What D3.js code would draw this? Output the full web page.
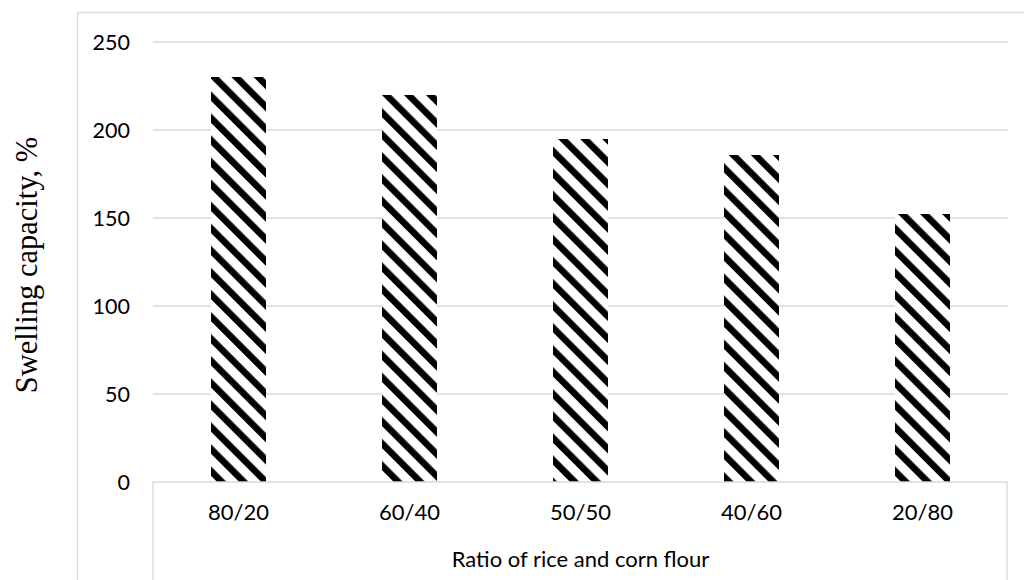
<!DOCTYPE html>
<html>
<head>
<meta charset="utf-8">
<script src="https://cdn.jsdelivr.net/npm/d3@7"></script>
<style>
  html, body { margin: 0; padding: 0; background: #fff; }
  svg { display: block; }
</style>
</head>
<body>
<svg id="chart" width="1024" height="580"></svg>
<script>
const categories = ["80/20", "60/40", "50/50", "40/60", "20/80"];
const swellingValues = [230, 220, 195, 186, 152];
const yTicks = [0, 50, 100, 150, 200, 250];
const xTitle = "Ratio of rice and corn flour";
const yTitle = "Swelling capacity, %";

const svg = d3.select("#chart");
const W = 1024, H = 580;
const plot = { left: 153, right: 1008, top: 42, bottom: 482 };
const grid = "#d9d9d9";

// outer chart border
svg.append("path")
  .attr("d", `M77.5,${H} V12.5 H${W}`)
  .attr("fill", "none").attr("stroke", grid).attr("stroke-width", 1.3);

// pattern: wide downward diagonal
const defs = svg.append("defs");
const pat = defs.append("pattern")
  .attr("id", "diag")
  .attr("patternUnits", "userSpaceOnUse")
  .attr("width", 15.6).attr("height", 15.6)
  .attr("patternTransform", "rotate(-45)");
pat.append("rect").attr("width", 15.6).attr("height", 15.6).attr("fill", "#fff");
pat.append("rect").attr("x", 0).attr("y", 0).attr("width", 6.6).attr("height", 15.6).attr("fill", "#000");

const x = d3.scaleBand().domain(categories).range([plot.left, plot.right]).paddingInner(0).paddingOuter(0);
const y = d3.scaleLinear().domain([0, 250]).range([plot.bottom, plot.top]);

// gridlines
svg.append("g").selectAll("line").data(yTicks.filter(d => d > 0)).join("line")
  .attr("x1", plot.left).attr("x2", plot.right)
  .attr("y1", d => y(d)).attr("y2", d => y(d))
  .attr("stroke", grid).attr("stroke-width", 1.3);

// y tick labels
svg.append("g").selectAll("text").data(yTicks).join("text")
  .attr("x", 130).attr("y", d => y(d))
  .attr("dy", "0.35em")
  .attr("text-anchor", "end")
  .attr("font-family", "Lato, 'Open Sans', sans-serif")
  .attr("font-size", 21.5)
  .attr("fill", "#000")
  .text(d => d);

// bars
const barFrac = 0.316;
svg.append("g").selectAll("rect").data(categories).join("rect")
  .attr("x", d => x(d) + x.bandwidth() * (1 - barFrac) / 2)
  .attr("width", x.bandwidth() * barFrac)
  .attr("y", (d, i) => y(swellingValues[i]))
  .attr("height", (d, i) => y(0) - y(swellingValues[i]))
  .attr("fill", "url(#diag)")
  .attr("shape-rendering", "crispEdges");

// axis line + table box below
svg.append("path")
  .attr("d", `M${plot.left},${H} V${plot.bottom} H${plot.right - 1} V${H}`)
  .attr("fill", "none").attr("stroke", grid).attr("stroke-width", 1.3);

// category labels
svg.append("g").selectAll("text").data(categories).join("text")
  .attr("x", d => x(d) + x.bandwidth() / 2)
  .attr("y", 520)
  .attr("text-anchor", "middle")
  .attr("font-family", "Lato, 'Open Sans', sans-serif")
  .attr("font-size", 22)
  .attr("fill", "#000")
  .text(d => d);

// x title
svg.append("text")
  .attr("x", (plot.left + plot.right) / 2)
  .attr("y", 567)
  .attr("text-anchor", "middle")
  .attr("font-family", "Lato, 'Open Sans', sans-serif")
  .attr("font-size", 22)
  .attr("fill", "#000")
  .text(xTitle);

// y title
svg.append("text")
  .attr("transform", `translate(37, 265) rotate(-90)`)
  .attr("text-anchor", "middle")
  .attr("font-family", "'Liberation Serif', 'Times New Roman', serif")
  .attr("font-size", 30.5)
  .attr("fill", "#000")
  .text(yTitle);
</script>
</body>
</html>
